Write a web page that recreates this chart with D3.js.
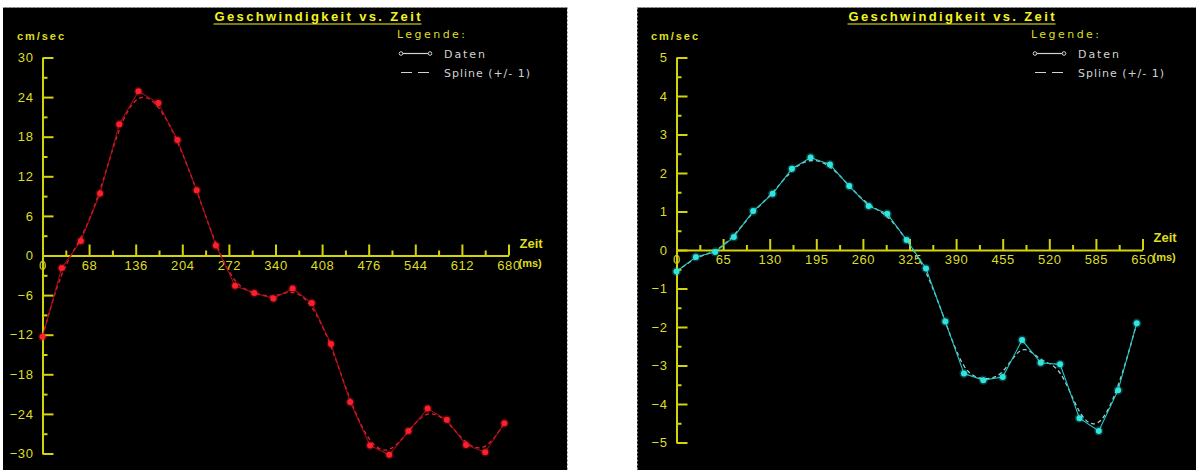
<!DOCTYPE html>
<html>
<head>
<meta charset="utf-8">
<script src="https://cdn.jsdelivr.net/npm/d3@7"></script>
<style>
  html, body { margin: 0; padding: 0; background: #ffffff; }
  svg { display: block; }
</style>
</head>
<body>
<svg id="chart" width="1196" height="470"></svg>
<script>
// Messzeitpunkte (ms) und Geschwindigkeiten (cm/sec), linkes Diagramm
const leftTimes  = [0, 28, 56, 84, 112, 140, 169, 197, 225, 253, 281, 309, 337,
                    365, 393, 421, 449, 478, 506, 534, 562, 590, 618, 646, 674];
const leftSpeeds = [-12.3, -1.9, 2.2, 9.4, 19.9, 24.9, 23.1, 17.5, 9.9, 1.5, -4.6, -5.7, -6.5,
                    -5.0, -7.2, -13.4, -22.2, -28.8, -30.2, -26.6, -23.2, -24.9, -28.7, -29.8, -25.4];

// Messzeitpunkte (ms) und Geschwindigkeiten (cm/sec), rechtes Diagramm
const rightTimes  = [0, 27, 54, 80, 107, 134, 161, 187, 214, 241, 268, 294, 321,
                     348, 375, 401, 428, 455, 482, 508, 535, 562, 589, 616, 642];
const rightSpeeds = [-0.56, -0.18, -0.05, 0.34, 1.01, 1.46, 2.11, 2.40, 2.22, 1.66, 1.14, 0.94, 0.26,
                     -0.48, -1.86, -3.21, -3.38, -3.30, -2.34, -2.93, -2.97, -4.37, -4.70, -3.64, -1.90];

// Achsenbeschriftungen
const leftXTicks  = [0, 68, 136, 204, 272, 340, 408, 476, 544, 612, 680];
const leftXMinor  = [34, 102, 170, 238, 306, 374, 442, 510, 578, 646];
const leftYTicks  = [-30, -24, -18, -12, -6, 0, 6, 12, 18, 24, 30];
const leftYMinor  = [-27, -21, -15, -9, -3, 3, 9, 15, 21, 27];

const rightXTicks = [0, 65, 130, 195, 260, 325, 390, 455, 520, 585, 650];
const rightXMinor = [32.5, 97.5, 162.5, 227.5, 292.5, 357.5, 422.5, 487.5, 552.5, 617.5];
const rightYTicks = [-5, -4, -3, -2, -1, 0, 1, 2, 3, 4, 5];
const rightYMinor = [-4.5, -3.5, -2.5, -1.5, -0.5, 0.5, 1.5, 2.5, 3.5, 4.5];

const titleText   = "Geschwindigkeit vs. Zeit";
const unitText    = "cm/sec";
const legendTitle = "Legende:";
const legendData  = "Daten";
const legendSpline = "Spline (+/- 1)";

const AXIS = "#d4d40a";
const LABEL = "#dede22";
const TITLE = "#f4f41e";
const LEGEND_TXT = "#d2d2d2";

const svg = d3.select("#chart");

function drawPanel(cfg) {
  const g = svg.append("g");
  const px = cfg.panelX;

  // schwarzer Hintergrund mit gepunktetem Rand
  g.append("rect")
    .attr("x", px).attr("y", 7.5)
    .attr("width", cfg.panelW).attr("height", 470)
    .attr("fill", "#000");
  g.append("line")
    .attr("x1", px).attr("x2", px + cfg.panelW)
    .attr("y1", 7.5).attr("y2", 7.5)
    .attr("stroke", "#9a9a9a").attr("stroke-dasharray", "2,2");
  g.append("line")
    .attr("x1", cfg.edgeX).attr("x2", cfg.edgeX)
    .attr("y1", 7.5).attr("y2", 470)
    .attr("stroke", "#9a9a9a").attr("stroke-dasharray", "2,2");

  const x = d3.scaleLinear().domain(cfg.xDomain).range([px + 39.5, px + 505.5]);
  const y = d3.scaleLinear().domain(cfg.yDomain).range(cfg.yRange);
  const y0 = y(0);

  // Titel, unterstrichen
  const cx = px + 314.5;
  g.append("text")
    .attr("x", cx).attr("y", 21)
    .attr("text-anchor", "middle")
    .attr("font-family", "Liberation Sans, Arial, sans-serif")
    .attr("font-weight", "bold").attr("font-size", 13)
    .attr("textLength", 206).attr("lengthAdjust", "spacing")
    .attr("fill", TITLE)
    .text(titleText);
  g.append("line")
    .attr("x1", cx - 104).attr("x2", cx + 104)
    .attr("y1", 24).attr("y2", 24)
    .attr("stroke", TITLE).attr("stroke-width", 1.2);

  // Einheit der y-Achse
  g.append("text")
    .attr("x", px + 14).attr("y", 40)
    .attr("font-family", "Liberation Sans, Arial, sans-serif")
    .attr("font-size", 11).attr("font-weight", "bold")
    .attr("textLength", 47).attr("lengthAdjust", "spacing")
    .attr("fill", LABEL)
    .text(unitText);

  // Legende
  const lx = px + 394;
  const font = "DejaVu Sans, Verdana, sans-serif";
  g.append("text")
    .attr("x", lx).attr("y", 38)
    .attr("font-family", font).attr("font-size", 11)
    .attr("textLength", 68).attr("lengthAdjust", "spacing")
    .attr("fill", LABEL).text(legendTitle);
  g.append("line")
    .attr("x1", lx + 4).attr("x2", lx + 33)
    .attr("y1", 53.5).attr("y2", 53.5)
    .attr("stroke", LEGEND_TXT).attr("stroke-width", 1.2);
  [lx + 4, lx + 33].forEach(c => g.append("circle")
    .attr("cx", c).attr("cy", 53.5).attr("r", 1.8)
    .attr("fill", "#000").attr("stroke", LEGEND_TXT).attr("stroke-width", 1));
  g.append("text")
    .attr("x", lx + 47).attr("y", 57.5)
    .attr("font-family", font).attr("font-size", 11)
    .attr("textLength", 41).attr("lengthAdjust", "spacing")
    .attr("fill", LEGEND_TXT).text(legendData);
  g.append("line")
    .attr("x1", lx + 4).attr("x2", lx + 33)
    .attr("y1", 72.5).attr("y2", 72.5)
    .attr("stroke", LEGEND_TXT).attr("stroke-width", 1.2)
    .attr("stroke-dasharray", "11,6");
  g.append("text")
    .attr("x", lx + 47).attr("y", 76.5)
    .attr("font-family", font).attr("font-size", 11)
    .attr("textLength", 86).attr("lengthAdjust", "spacing")
    .attr("fill", LEGEND_TXT).text(legendSpline);

  // x-Achse: Haupt- und Nebenstriche nach oben, Beschriftung darunter
  g.append("g").attr("transform", `translate(0,${y0})`)
    .call(d3.axisBottom(x).tickValues(cfg.xTicks).tickSizeInner(-11).tickSizeOuter(0)
      .tickPadding(5).tickFormat(d3.format("d")));
  g.append("g").attr("transform", `translate(0,${y0})`)
    .call(d3.axisBottom(x).tickValues(cfg.xMinor).tickSizeInner(-5).tickSizeOuter(0)
      .tickFormat(""))
    .select(".domain").remove();

  // y-Achse: Striche nach rechts, Beschriftung links
  g.append("g").attr("transform", `translate(${x(0)},0)`)
    .call(d3.axisLeft(y).tickValues(cfg.yTicks).tickSizeInner(-11).tickSizeOuter(0)
      .tickPadding(9).tickFormat(d3.format("d")));
  g.append("g").attr("transform", `translate(${x(0)},0)`)
    .call(d3.axisLeft(y).tickValues(cfg.yMinor).tickSizeInner(-5).tickSizeOuter(0)
      .tickFormat(""))
    .select(".domain").remove();

  g.selectAll(".domain, .tick line")
    .attr("stroke", AXIS).attr("stroke-width", 2);
  g.selectAll(".tick text")
    .attr("fill", LABEL)
    .attr("font-family", "Liberation Sans, Arial, sans-serif")
    .attr("font-size", 13)
    .attr("letter-spacing", 0.6);

  // Achsentitel
  g.append("text")
    .attr("x", x.range()[1] + 11).attr("y", y0 - 8)
    .attr("font-family", "Liberation Sans, Arial, sans-serif")
    .attr("font-size", 13).attr("font-weight", "bold")
    .attr("fill", LABEL).text("Zeit");
  g.append("text")
    .attr("x", x.range()[1] + 10).attr("y", y0 + 11)
    .attr("font-family", "Liberation Sans, Arial, sans-serif")
    .attr("font-size", 11).attr("font-weight", "bold")
    .attr("fill", LABEL).text("(ms)");

  // Messreihe und geglättete Kurve
  const pts = cfg.times.map((t, i) => [t, cfg.values[i]]);
  const dataLine = d3.line().x(d => x(d[0])).y(d => y(d[1]));
  const splineLine = d3.line().x(d => x(d[0])).y(d => y(d[1])).curve(d3.curveBasis);

  g.append("path").datum(pts)
    .attr("d", splineLine)
    .attr("fill", "none")
    .attr("stroke", cfg.splineColor).attr("stroke-width", 1.3)
    .attr("stroke-dasharray", "4,3");
  g.append("path").datum(pts)
    .attr("d", dataLine)
    .attr("fill", "none")
    .attr("stroke", cfg.lineColor).attr("stroke-width", 1.1)
    .attr("stroke-opacity", cfg.lineOpacity);

  g.selectAll("circle.halo").data(pts).enter().append("circle")
    .attr("class", "halo")
    .attr("cx", d => x(d[0])).attr("cy", d => y(d[1])).attr("r", 4.6)
    .attr("fill", cfg.markerColor).attr("opacity", 0.25);
  g.selectAll("circle.pt").data(pts).enter().append("circle")
    .attr("class", "pt")
    .attr("cx", d => x(d[0])).attr("cy", d => y(d[1])).attr("r", 3)
    .attr("fill", cfg.markerColor);
}

drawPanel({
  panelX: 3, panelW: 564, edgeX: 567.5,
  xDomain: [0, 680], yDomain: [-30, 30], yRange: [453.5, 57.5],
  xTicks: leftXTicks, xMinor: leftXMinor, yTicks: leftYTicks, yMinor: leftYMinor,
  times: leftTimes, values: leftSpeeds,
  lineColor: "#c0101c", lineOpacity: 0.8, splineColor: "#e0202a", markerColor: "#ff1e2c"
});

drawPanel({
  panelX: 637, panelW: 559, edgeX: 637.5,
  xDomain: [0, 650], yDomain: [-5, 5], yRange: [442.5, 57.5],
  xTicks: rightXTicks, xMinor: rightXMinor, yTicks: rightYTicks, yMinor: rightYMinor,
  times: rightTimes, values: rightSpeeds,
  lineColor: "#22c8c8", lineOpacity: 1, splineColor: "#9ccfcf", markerColor: "#2ee6e0"
});
</script>
</body>
</html>
